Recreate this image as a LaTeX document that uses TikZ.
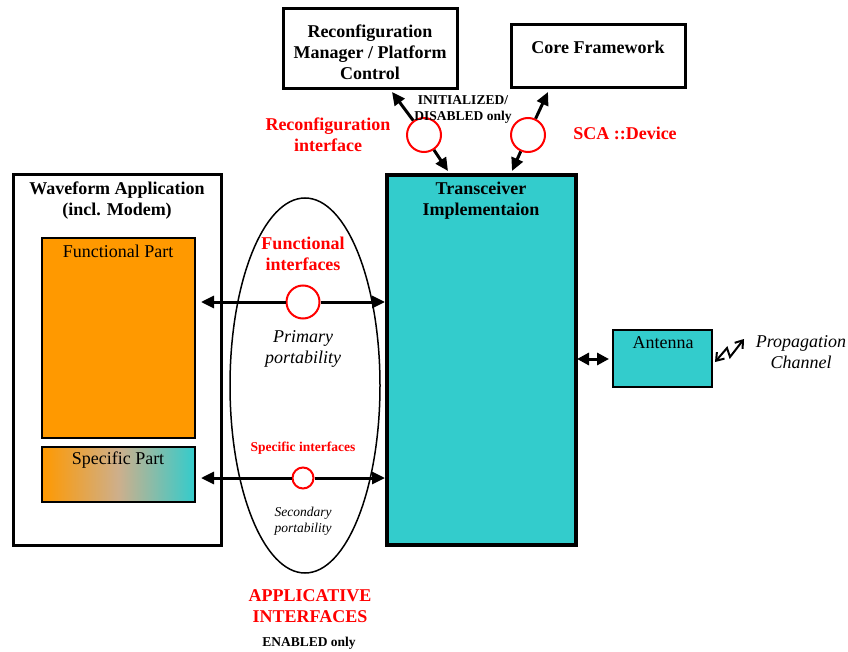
\documentclass[tikz,border=0pt]{standalone}
\usepackage{fontspec}
\setmainfont{Liberation Serif}
\usetikzlibrary{arrows.meta,shapes.geometric,shadings}
\definecolor{teal}{RGB}{51,204,204}
\definecolor{orng}{RGB}{255,153,0}
\definecolor{redc}{RGB}{255,0,0}
\definecolor{midc}{RGB}{205,175,140}
\tikzset{
  bigb/.style={font=\fontsize{18}{21}\selectfont\bfseries, align=center, inner sep=0},
  bigr/.style={font=\fontsize{18}{21}\selectfont, align=center, inner sep=0},
  bigi/.style={font=\fontsize{18}{21}\selectfont\itshape, align=center, inner sep=0},
  redb/.style={bigb, text=redc},
  smb/.style={font=\fontsize{13.5}{16.5}\selectfont\bfseries, align=center, inner sep=0},
  smi/.style={font=\fontsize{13.5}{16}\selectfont\itshape, align=center, inner sep=0},
  box/.style={draw, line width=3pt, inner sep=0, fill=white},
  ifc/.style={circle, draw=redc, line width=2pt, fill=white, inner sep=0},
  arr/.style={line width=3pt, -{Triangle[length=13pt,width=12pt]}},
  darr/.style={line width=3pt, {Triangle[length=12pt,width=12pt]}-{Triangle[length=12pt,width=12pt]}},
}
\begin{document}
\begin{tikzpicture}[x=1pt,y=-1pt]
\useasboundingbox (0,0) rectangle (848,652);
% boxes
\node[box, minimum width=174pt, minimum height=80pt] (rm) at (370,49) {};
\node[box, minimum width=174pt, minimum height=63pt] (cf) at (598,56.5) {};
\node[box, minimum width=208pt, minimum height=370pt] (wa) at (117,360) {};
\node[draw, line width=4.5pt, fill=teal, minimum width=189pt, minimum height=370pt, inner sep=0] (tr) at (481.5,360) {};
\node[draw, line width=2pt, fill=orng, minimum width=153pt, minimum height=200pt, inner sep=0] (fp) at (118.5,338) {};
\node[draw, line width=2pt, left color=orng, right color=teal, middle color=midc, minimum width=153pt, minimum height=55pt, inner sep=0] (sp) at (118.5,474.5) {};
\node[draw, line width=1.5pt, fill=teal, minimum width=99pt, minimum height=57pt, inner sep=0] (an) at (662.5,358.5) {};
\node[ellipse, draw, line width=1.5pt, minimum width=150pt, minimum height=375pt, inner sep=0] (el) at (305,385.5) {};
% box texts
\node[bigb] (rmt) at (370,52) {Reconfiguration\\Manager / Platform\\Control};
\node[bigb] (cft) at (598,47) {Core Framework};
\node[bigb] (wat) at (117,201) {Waveform Application\\(incl. Modem)};
\node[bigb] (trt) at (481,201) {Transceiver\\Implementaion};
\node[bigr] (fpt) at (118,251) {Functional Part};
\node[bigr] (spt) at (118,460) {Specific Part};
\node[bigr] (ant) at (663,343) {Antenna};
% interface circles
\node[ifc, minimum size=34pt] (c1) at (424,135) {};
\node[ifc, minimum size=34pt] (c2) at (528,135) {};
\node[ifc, minimum size=33pt] (c3) at (303,302) {};
\node[ifc, minimum size=21pt] (c4) at (303,478) {};
% connector end points
\coordinate (a1) at (392,92);
\coordinate (b1) at (448,171);
\coordinate (a2) at (548,92);
\coordinate (b2) at (512,171);
\coordinate (f1) at (201,302);
\coordinate (f2) at (385,302);
\coordinate (s1) at (201,478);
\coordinate (s2) at (385,478);
\coordinate (t1) at (577,359);
\coordinate (t2) at (609,359);
% connectors
\draw[arr] (c1) -- (a1);
\draw[arr] (c1) -- (b1);
\draw[arr] (c2) -- (a2);
\draw[arr] (c2) -- (b2);
\draw[arr] (c3) -- (f1);
\draw[arr] (c3) -- (f2);
\draw[arr] (c4) -- (s1);
\draw[arr] (c4) -- (s2);
\draw[darr] (t1) -- (t2);
% propagation zigzag
\coordinate (z1) at (715,362);
\coordinate (z2) at (744,339);
\draw[line width=2pt, {Straight Barb[length=7pt,width=10pt]}-{Straight Barb[length=7pt,width=10pt]}, line join=miter]
  (z1) -- (727,348) -- (730,357) -- (z2);
% labels
\node[smb] (init) at (463,109.5) {INITIALIZED/\\DISABLED only};
\node[redb] (rif) at (328,135) {Reconfiguration\\interface};
\node[redb] (sca) at (625,133) {SCA ::Device};
\node[redb] (fif) at (303,254) {Functional\\interfaces};
\node[bigi] (ppo) at (303,349) {Primary\\portability};
\node[font=\fontsize{13.5}{16}\selectfont\bfseries, text=redc, inner sep=0] (sif) at (303,448) {Specific interfaces};
\node[smi] (spo) at (303,521) {Secondary\\portability};
\node[redb] (api) at (310,606) {APPLICATIVE\\INTERFACES};
\node[smb] (ena) at (309,643) {ENABLED only};
\node[bigi] (prc) at (801,352.5) {Propagation\\Channel};
\end{tikzpicture}
\end{document}
